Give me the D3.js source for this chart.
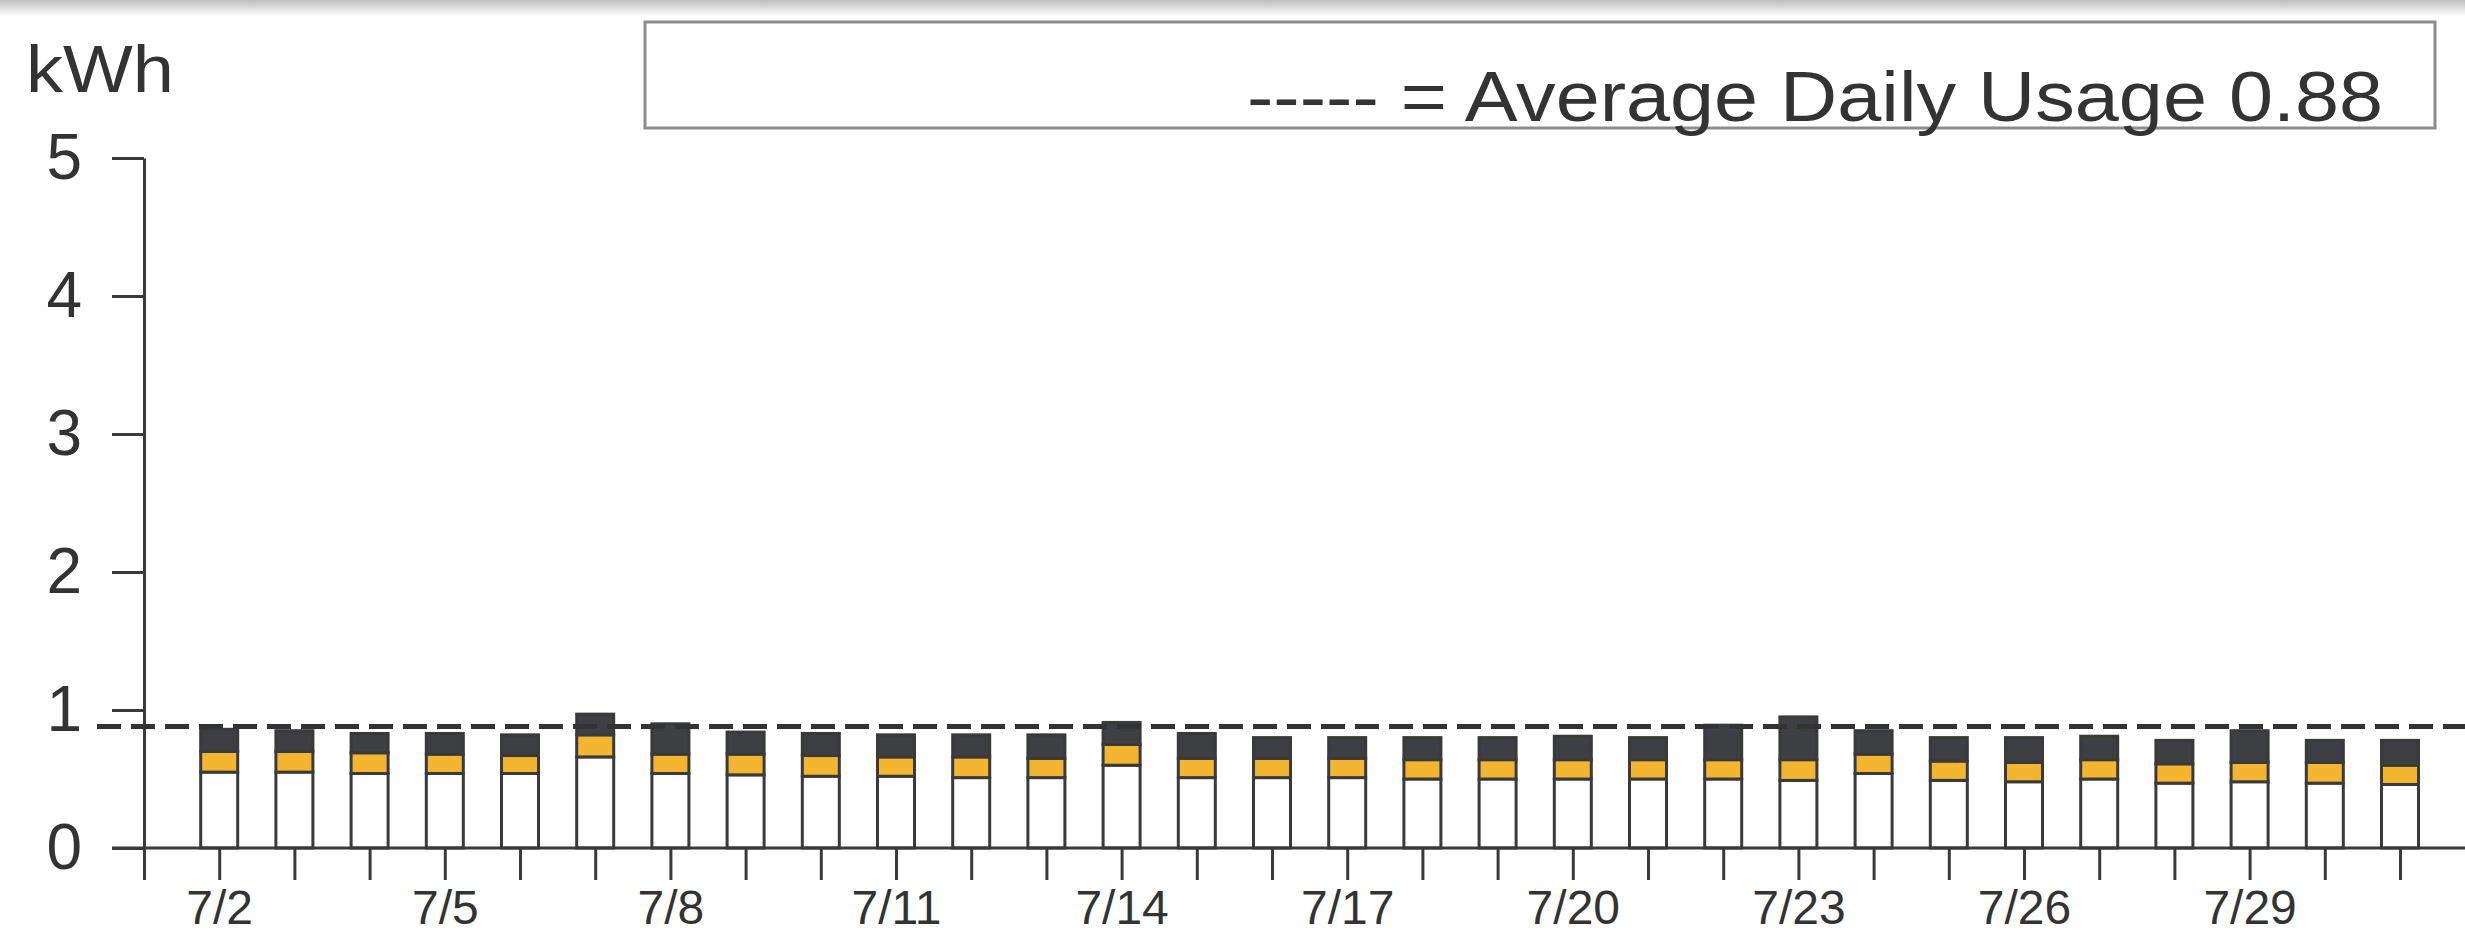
<!DOCTYPE html>
<html>
<head>
<meta charset="utf-8">
<script src="https://cdn.jsdelivr.net/npm/d3@7"></script>
<style>
  html, body { margin: 0; padding: 0; background: #fff; }
  svg { display: block; }
  text { font-family: "Liberation Sans", Arial, Helvetica, sans-serif; fill: #333; }
</style>
</head>
<body>
<svg id="chart" width="2465" height="933"></svg>
<script>
// Daily usage for July, kWh, split into three stacked parts
const days      = [2, 3, 4, 5, 6, 7, 8, 9, 10, 11, 12, 13, 14, 15, 16, 17, 18, 19, 20, 21, 22, 23, 24, 25, 26, 27, 28, 29, 30, 31];
const baseUse   = [0.55, 0.55, 0.54, 0.54, 0.54, 0.66, 0.54, 0.53, 0.52, 0.52, 0.51, 0.51, 0.60, 0.51, 0.51, 0.51, 0.50, 0.50, 0.50, 0.50, 0.50, 0.49, 0.54, 0.49, 0.48, 0.50, 0.47, 0.48, 0.47, 0.46];
const midUse    = [0.15, 0.15, 0.15, 0.14, 0.13, 0.16, 0.14, 0.15, 0.15, 0.14, 0.15, 0.14, 0.15, 0.14, 0.14, 0.14, 0.14, 0.14, 0.14, 0.14, 0.14, 0.15, 0.14, 0.14, 0.14, 0.14, 0.14, 0.14, 0.15, 0.14];
const peakUse   = [0.16, 0.15, 0.14, 0.15, 0.15, 0.15, 0.22, 0.16, 0.16, 0.16, 0.16, 0.17, 0.16, 0.18, 0.15, 0.15, 0.16, 0.16, 0.17, 0.16, 0.25, 0.31, 0.17, 0.17, 0.18, 0.17, 0.17, 0.23, 0.16, 0.18];
const tickDays  = d3.range(1, 32);
const labelDays = [2, 5, 8, 11, 14, 17, 20, 23, 26, 29];
const yTicks    = [0, 1, 2, 3, 4, 5];
const averageDaily = 0.88;
const month = 7;

const partKeys   = ["base", "mid", "peak"];
const partColors = { base: "#ffffff", mid: "#f4b630", peak: "#3e3f42" };
const ink = "#3a3a3a";

const svg = d3.select("#chart");
const W = 2465, H = 933;

// scanned-page shading along the top edge
const defs = svg.append("defs");
const grad = defs.append("linearGradient").attr("id", "topShade").attr("x1", 0).attr("y1", 0).attr("x2", 0).attr("y2", 1);
grad.append("stop").attr("offset", "0%").attr("stop-color", "#bdbdbd");
grad.append("stop").attr("offset", "100%").attr("stop-color", "#ffffff");
svg.append("rect").attr("x", 0).attr("y", 0).attr("width", W).attr("height", 16).attr("fill", "url(#topShade)");

// scales
const x = d3.scaleLinear().domain([1, 32]).range([144, 144 + 31 * 75.2]);
const y = d3.scaleLinear().domain([0, 5]).range([848, 158]);
const barW = 37;

// stacked bars
const rows = days.map((d, i) => ({ day: d, base: baseUse[i], mid: midUse[i], peak: peakUse[i] }));
const stacked = d3.stack().keys(partKeys)(rows);

svg.append("g").selectAll("g")
  .data(stacked)
  .join("g")
    .attr("fill", s => partColors[s.key])
  .selectAll("rect")
  .data(s => s)
  .join("rect")
    .attr("x", d => x(d.data.day) - barW / 2)
    .attr("y", d => y(d[1]))
    .attr("width", barW)
    .attr("height", d => y(d[0]) - y(d[1]))
    .attr("stroke", ink)
    .attr("stroke-width", 3);

// y axis
const yAxis = svg.append("g")
  .attr("transform", `translate(${x(1)},0)`)
  .call(d3.axisLeft(y).tickValues(yTicks).tickFormat(d3.format("d")).tickSize(32).tickSizeOuter(0).tickPadding(30));
yAxis.selectAll("line, path").attr("stroke", ink).attr("stroke-width", 3);
yAxis.selectAll("text").attr("font-size", 64).attr("fill", "#333");

// x axis
const xAxis = svg.append("g")
  .attr("transform", `translate(0,${y(0)})`)
  .call(d3.axisBottom(x).tickValues(tickDays)
    .tickFormat(d => labelDays.includes(d) ? `${month}/${d}` : "")
    .tickSize(32).tickSizeOuter(0).tickPadding(10));
xAxis.select(".domain").attr("d", `M${x(1) - 32},0H${W}`);
xAxis.selectAll("line, path").attr("stroke", ink).attr("stroke-width", 3);
xAxis.selectAll("text").attr("font-size", 48).attr("fill", "#333");

// average daily usage line
svg.append("line")
  .attr("x1", 97).attr("x2", W)
  .attr("y1", y(averageDaily)).attr("y2", y(averageDaily))
  .attr("stroke", "#333").attr("stroke-width", 5)
  .attr("stroke-dasharray", "24,10");

// unit label
svg.append("text")
  .attr("x", 26).attr("y", 92)
  .attr("font-size", 66)
  .attr("textLength", 148).attr("lengthAdjust", "spacingAndGlyphs")
  .text("kWh");

// legend box
svg.append("rect")
  .attr("x", 645).attr("y", 22).attr("width", 2435 - 645).attr("height", 106)
  .attr("fill", "none").attr("stroke", "#8c8c8c").attr("stroke-width", 3);
svg.append("text")
  .attr("x", 1247).attr("y", 121)
  .attr("font-size", 70)
  .attr("textLength", 2383 - 1247).attr("lengthAdjust", "spacingAndGlyphs")
  .text(`----- = Average Daily Usage ${averageDaily.toFixed(2)}`);
</script>
</body>
</html>
